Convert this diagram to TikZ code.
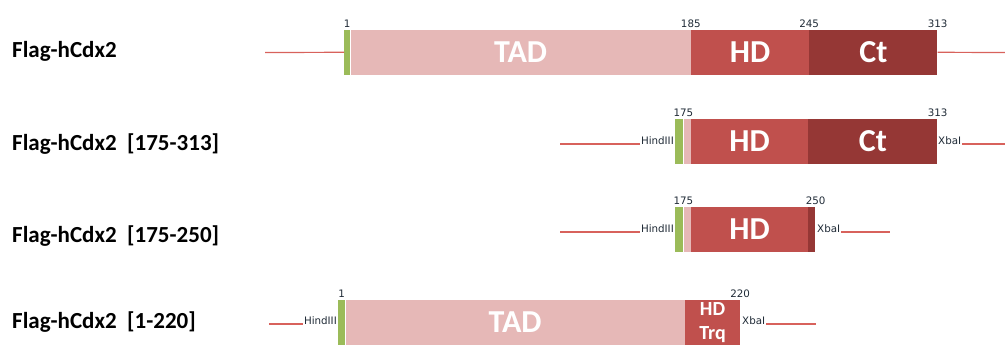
\documentclass[tikz,border=0pt]{standalone}
\usepackage{fontspec}
\newfontfamily\carlito{Carlito}
\newfontfamily\dejavu{DejaVu Sans}
\usetikzlibrary{positioning}
\definecolor{cgreen}{HTML}{9BBB59}
\definecolor{ctad}{HTML}{E6B8B7}
\definecolor{chd}{HTML}{C0504D}
\definecolor{cct}{HTML}{953735}
\definecolor{clink}{HTML}{D8625C}
\definecolor{cnum}{HTML}{1F2A36}
\tikzset{
  dom/.style={anchor=south west, inner sep=0, minimum height=45, text=white,
    font=\carlito\bfseries\fontsize{32}{32}\selectfont},
  num/.style={anchor=south, inner sep=1.5, text=cnum, font=\dejavu\fontsize{10.3}{11}\selectfont},
  site/.style={inner sep=1, text=cnum, font=\dejavu\fontsize{10.3}{11}\selectfont},
  link/.style={clink, line width=1.2},
  rowlbl/.style={anchor=base west, inner sep=0, font=\carlito\bfseries\fontsize{23}{23}\selectfont}
}

\begin{document}
\begin{tikzpicture}[x=1pt, y=-1pt]
\useasboundingbox (0,0) rectangle (1005,345);
% row labels
\foreach \yb/\txt [count=\i] in {58/{Flag-hCdx2}, 150/{Flag-hCdx2\ \ [175-313]},
    242/{Flag-hCdx2\ \ [175-250]}, 328/{Flag-hCdx2\ \ [1-220]}} {
  \node[rowlbl] (lbl\i) at (12,\yb) {\txt};
}
% full length
\node[dom, fill=cgreen, minimum width=6] (g1) at (344,75) {};
\node[dom, fill=ctad, minimum width=340] (tad1) at (g1.south east) {TAD};
\node[dom, fill=chd, minimum width=118] (hd1) at (tad1.south east) {HD};
\node[dom, fill=cct, minimum width=128] (ct1) at (hd1.south east) {Ct};
\node[num] (n1a) at (g1.north) {1};
\node[num] (n1b) at (tad1.north east) {185};
\node[num] (n1c) at (hd1.north east) {245};
\node[num] (n1d) at (ct1.north east) {313};
\coordinate (e1a) at (265,52.5);
\coordinate (e1b) at (1005,52.5);
\draw[link] (e1a) -- (g1.west);
\draw[link] (ct1.east) -- (e1b);
% 175-313
\node[dom, fill=cgreen, minimum width=8] (g2) at (675,164) {};
\node[dom, fill=ctad, minimum width=7] (p2) at (g2.south east) {};
\node[dom, fill=chd, minimum width=117] (hd2) at (p2.south east) {HD};
\node[dom, fill=cct, minimum width=129] (ct2) at (hd2.south east) {Ct};
\node[num] (n2a) at (g2.north east) {175};
\node[num] (n2b) at (ct2.north east) {313};
\node[site, anchor=base east] (h2) at (675,144) {HindIII};
\node[site, anchor=base west] (x2) at (937,144) {XbaI};
\coordinate (e2a) at (560,144);
\coordinate (e2b) at (1005,144);
\draw[link] (e2a) -- (h2.base west);
\draw[link] (x2.base east) -- (e2b);
% 175-250
\node[dom, fill=cgreen, minimum width=8] (g3) at (675,252) {};
\node[dom, fill=ctad, minimum width=7] (p3) at (g3.south east) {};
\node[dom, fill=chd, minimum width=117] (hd3) at (p3.south east) {HD};
\node[dom, fill=cct, minimum width=7] (dk3) at (hd3.south east) {};
\node[num] (n3a) at (g3.north east) {175};
\node[num] (n3b) at (dk3.north east) {250};
\node[site, anchor=base east] (h3) at (675,232) {HindIII};
\node[site, anchor=base west] (x3) at (816,232) {XbaI};
\coordinate (e3a) at (560,232);
\coordinate (e3b) at (890,232);
\draw[link] (e3a) -- (h3.base west);
\draw[link] (x3.base east) -- (e3b);
% 1-220
\node[dom, fill=cgreen, minimum width=7] (g4) at (338,345) {};
\node[dom, fill=ctad, minimum width=339] (tad4) at (g4.south east) {TAD};
\node[dom, fill=chd, minimum width=55, align=center,
  font=\carlito\bfseries\fontsize{20}{24}\selectfont] (hdt4) at (tad4.south east) {HD\\Trq};
\node[num] (n4a) at (g4.north) {1};
\node[num] (n4b) at (hdt4.north east) {220};
\node[site, anchor=base east] (h4) at (338,324) {HindIII};
\node[site, anchor=base west] (x4) at (741,324) {XbaI};
\coordinate (e4a) at (269,324);
\coordinate (e4b) at (816,324);
\draw[link] (e4a) -- (h4.base west);
\draw[link] (x4.base east) -- (e4b);
\end{tikzpicture}
\end{document}
